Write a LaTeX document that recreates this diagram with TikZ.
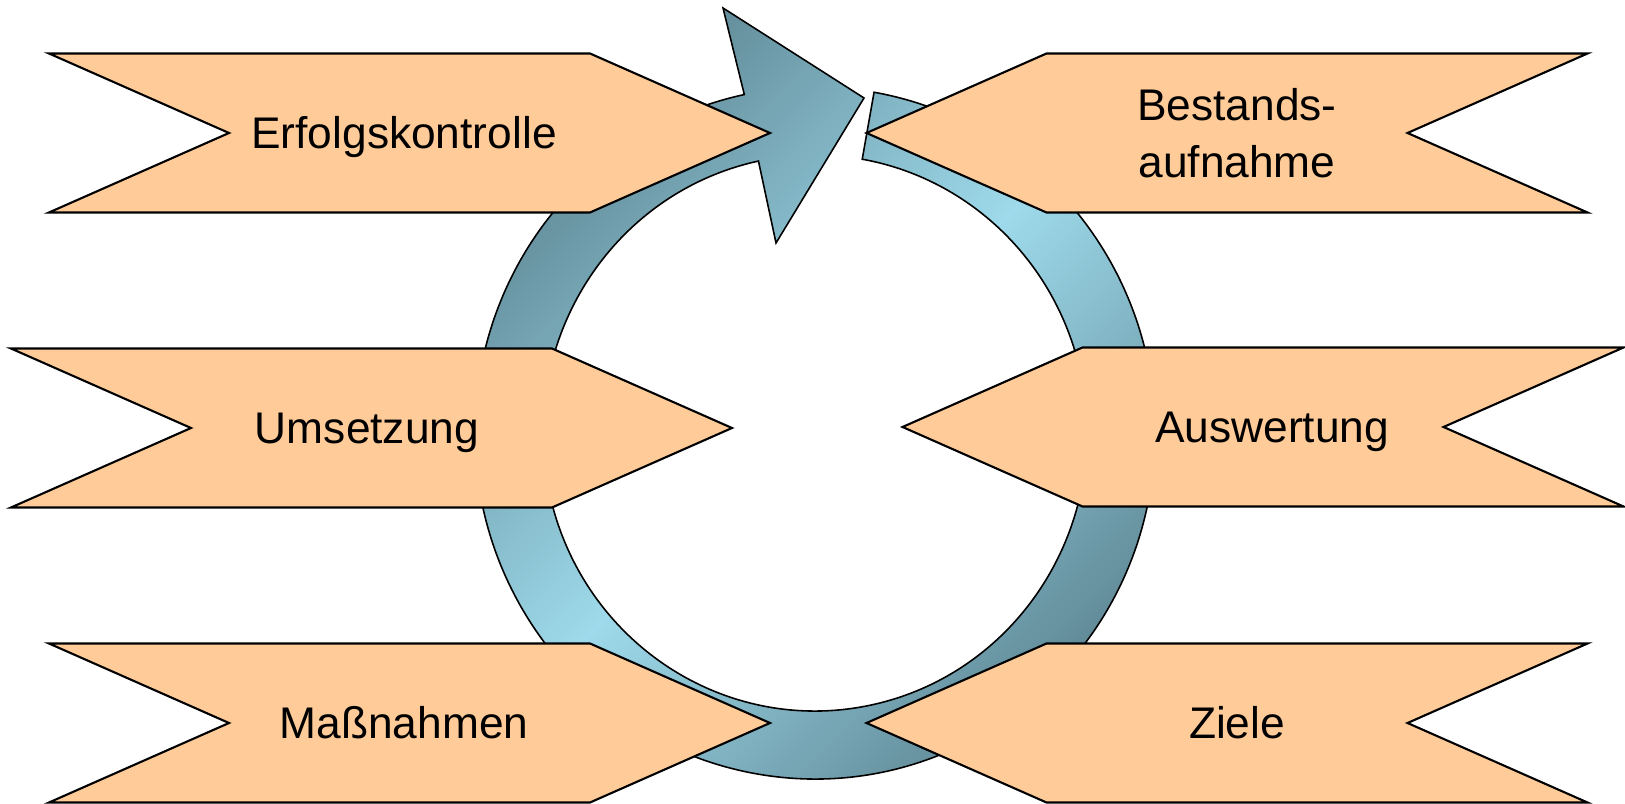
\documentclass[tikz,border=0pt]{standalone}
\usepackage{fontspec}
\setmainfont{Liberation Sans}
\usepackage{tikz}
\definecolor{tagfill}{RGB}{255,204,153}
\definecolor{ringdark}{RGB}{94,134,147}
\definecolor{ringlight}{RGB}{158,218,235}
\tikzset{
    tagbox/.style={draw=black, fill=tagfill, line width=0.6pt, line join=miter},
    ring/.style={draw=black, line width=0.45pt, top color=ringdark, bottom color=ringdark, middle color=ringlight, shading angle=45},
    taglabel/.style={font=\fontsize{12.6}{16.2}\selectfont, inner sep=0pt, text height=9pt, text depth=0pt},
    tagtwolines/.style={font=\fontsize{12.6}{16.2}\selectfont, inner sep=0pt, align=center}
}
\newcommand{\tagright}[1]{
    \draw[tagbox] (#1) ++(-360.5,79.5) -- ++(541,0) -- ++(180,-79.5) -- ++(-180,-79.5) -- ++(-541,0) -- ++(180,79.5) -- cycle;
}
\newcommand{\tagleft}[1]{
    \draw[tagbox] (#1) ++(360.5,79.5) -- ++(-541,0) -- ++(-180,-79.5) -- ++(180,-79.5) -- ++(541,0) -- ++(-180,79.5) -- cycle;
}

\begin{document}
\begin{tikzpicture}[x=0.01cm, y=0.01cm]
    \useasboundingbox (0,0) rectangle (1625,803);
    \coordinate (hub) at (815,370);
    \coordinate (headout) at (723,795);
    \coordinate (headtip) at (864,705);
    \coordinate (headin) at (776,560);
    \draw[ring] ([shift={(80:340 and 346)}]hub) arc[start angle=80, end angle=-258, x radius=340, y radius=346]
        -- (headout) -- (headtip) -- (headin)
        -- ([shift={(102:272 and 278)}]hub) arc[start angle=102, end angle=440, x radius=272, y radius=278] -- cycle;

    \coordinate (erfolg) at (409.5,670);
    \coordinate (umsetz) at (371.5,375);
    \coordinate (massn) at (409.5,80);
    \coordinate (bestand) at (1227,670);
    \coordinate (auswert) at (1263,376);
    \coordinate (ziele) at (1227,80);
    \tagright{erfolg}
    \tagright{umsetz}
    \tagright{massn}
    \tagleft{bestand}
    \tagleft{auswert}
    \tagleft{ziele}

    \node[taglabel] (erfolgtext) at (404,670) {Erfolgskontrolle};
    \node[taglabel] (umsetztext) at (367,375) {Umsetzung};
    \node[taglabel] (massntext) at (404,80) {Maßnahmen};
    \node[tagtwolines] (bestandtext) at (1237,670) {Bestands-\\aufnahme};
    \node[taglabel] (auswerttext) at (1272,376) {Auswertung};
    \node[taglabel] (zieletext) at (1237,80) {Ziele};
\end{tikzpicture}
\end{document}
